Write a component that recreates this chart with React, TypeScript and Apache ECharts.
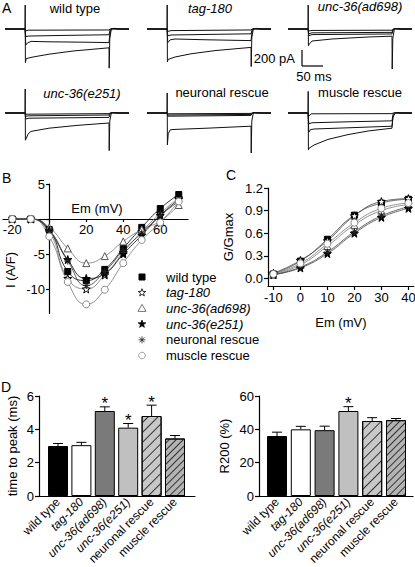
import React, { useEffect, useRef } from 'react';
import * as echarts from 'echarts';

const FONT = "'Liberation Sans', Arial, Helvetica, sans-serif";

// ---------- Panel A: current traces, [time (ms), current (pA)] ----------
const wtTraces = [
  [[-50, 0], [0, 0], [1, -25], [8, -15], [210, -12], [213, 0], [260, 0]],
  [[-50, 0], [0, 0], [2, -95], [10, -88], [100, -80], [210, -72], [213, -5], [218, 5], [230, 0], [260, 0]],
  [[-50, 0], [0, 0], [2, -200], [6, -175], [15, -155], [60, -160], [150, -165], [210, -170], [213, -20], [220, 5], [235, 0], [260, 0]],
  [[-50, 0], [0, 0], [0.5, 300], [1, -420], [3, -370], [20, -350], [60, -315], [120, -275], [210, -235], [210.5, -490], [212, -120], [216, 5], [225, 8], [240, 0], [260, 0]],
];
const tagTraces = [
  [[-50, 0], [0, 0], [2, -30], [10, -20], [210, -12], [213, 0], [260, 0]],
  [[-50, 0], [0, 0], [2, -85], [10, -75], [100, -68], [210, -60], [213, -5], [218, 5], [230, 0], [260, 0]],
  [[-50, 0], [0, 0], [2, -170], [8, -135], [20, -125], [100, -135], [210, -145], [213, -20], [220, 5], [235, 0], [260, 0]],
  [[-50, 0], [0, 0], [0.5, 300], [1, -410], [3, -380], [20, -350], [60, -310], [120, -270], [210, -230], [210.5, -470], [212, -110], [216, 5], [225, 8], [240, 0], [260, 0]],
];
const ad698Traces = [
  [[-50, 0], [0, 0], [2, -25], [10, -18], [210, -15], [213, 0], [260, 0]],
  [[-50, 0], [0, 0], [2, -60], [10, -48], [210, -42], [213, -5], [218, 5], [230, 0], [260, 0]],
  [[-50, 0], [0, 0], [2, -85], [10, -70], [210, -62], [213, -8], [218, 5], [230, 0], [260, 0]],
  [[-50, 0], [0, 0], [0.5, 300], [1, -210], [3, -190], [10, -150], [60, -125], [150, -100], [210, -90], [210.5, -500], [212, -120], [216, 5], [225, 5], [240, 0], [260, 0]],
];
const e251Traces = [
  [[-50, 0], [0, 0], [2, -15], [210, -8], [213, 0], [260, 0]],
  [[-50, 0], [0, 0], [2, -40], [10, -35], [210, -25], [213, -3], [218, 4], [230, 0], [260, 0]],
  [[-50, 0], [0, 0], [2, -75], [10, -65], [210, -55], [213, -6], [218, 5], [230, 0], [260, 0]],
  [[-50, 0], [0, 0], [0.5, 300], [1, -340], [3, -320], [8, -260], [15, -230], [60, -190], [130, -155], [210, -125], [210.5, -470], [212, -100], [216, 5], [225, 5], [240, 0], [260, 0]],
];
const neuronalTraces = [
  [[-50, 0], [0, 0], [2, -10], [210, -5], [213, 0], [260, 0]],
  [[-50, 0], [0, 0], [2, -25], [210, -18], [213, -2], [218, 4], [230, 0], [260, 0]],
  [[-50, 0], [0, 0], [2, -40], [210, -30], [213, -4], [218, 5], [230, 0], [260, 0]],
  [[-50, 0], [0, 0], [0.5, 250], [1, -400], [3, -260], [8, -210], [20, -205], [100, -190], [210, -165], [210.5, -500], [212, -100], [216, 5], [225, 5], [240, 0], [260, 0]],
];
const muscleTraces = [
  [[-50, 0], [0, 0], [2, -40], [8, -10], [210, -8], [213, 0], [260, 0]],
  [[-50, 0], [0, 0], [2, -135], [10, -122], [100, -110], [210, -98], [213, -10], [218, 5], [230, 0], [260, 0]],
  [[-50, 0], [0, 0], [2, -240], [6, -208], [15, -200], [100, -185], [210, -165], [213, -30], [220, 5], [235, 0], [260, 0]],
  [[-50, 0], [0, 0], [0.5, 270], [1, -460], [3, -440], [15, -400], [50, -330], [100, -270], [150, -225], [210, -190], [212, -60], [218, 5], [230, 0], [260, 0]],
];
const panelATraces = [wtTraces, tagTraces, ad698Traces, e251Traces, neuronalTraces, muscleTraces];

// ---------- Genotype names ----------
const genotypes = ['wild type', 'tag-180', 'unc-36(ad698)', 'unc-36(e251)', 'neuronal rescue', 'muscle rescue'];
const italicNames = ['tag-180', 'unc-36(ad698)', 'unc-36(e251)'];

// ---------- Panel B: I-V ----------
const ivVoltages = [-20, -10, 0, 10, 20, 30, 40, 50, 60, 70];
const ivWildType = [0, 0, -1.5, -7.5, -8.8, -7.2, -4.2, -1.2, 1.5, 3.5];
const ivTag180 = [0, 0, -1.8, -8.5, -10, -8, -4.8, -1.8, 0.8, 3.0];
const ivAd698 = [0, 0, -1.2, -4.2, -6.3, -5.3, -3.2, -1.5, -0.3, 2.0];
const ivE251 = [0, 0, -1.6, -5.8, -8.5, -7.8, -5.0, -2.3, 0.5, 2.8];
const ivNeuronal = [0, 0, -1.8, -6.0, -9.5, -7.5, -4.5, -2.0, 0.5, 2.5];
const ivMuscle = [0, 0, -2.5, -9.0, -12.2, -10.1, -6.3, -3.0, -0.5, 2.5];
const ivSeries = [ivWildType, ivTag180, ivAd698, ivE251, ivNeuronal, ivMuscle];

// ---------- Panel C: G-V ----------
const gvVoltages = [-10, 0, 10, 20, 30, 40];
const gvWildType = [0.06, 0.23, 0.52, 0.84, 1.0, 1.05];
const gvTag180 = [0.07, 0.24, 0.5, 0.83, 1.02, 1.06];
const gvAd698 = [0.05, 0.18, 0.43, 0.71, 0.9, 0.98];
const gvE251 = [0.05, 0.14, 0.33, 0.6, 0.81, 0.93];
const gvNeuronal = [0.05, 0.15, 0.35, 0.62, 0.83, 0.95];
const gvMuscle = [0.06, 0.2, 0.46, 0.74, 0.93, 1.0];
const gvSeries = [gvWildType, gvTag180, gvAd698, gvE251, gvNeuronal, gvMuscle];

// ---------- Panel D ----------
const timeToPeak = [3.0, 3.05, 5.1, 4.1, 4.8, 3.45];
const timeToPeakErr = [0.15, 0.17, 0.25, 0.25, 0.65, 0.18];
const timeToPeakSig = [0, 0, 1, 1, 1, 0];
const r200 = [36, 40, 39.5, 51, 45, 45.5];
const r200Err = [2.3, 1.8, 2.4, 2.6, 2.0, 1.0];
const r200Sig = [0, 0, 0, 1, 0, 0];

// ---------- Styles ----------
const STAR = 'path://M10,0L12.35,6.76L19.51,6.91L13.8,11.24L15.88,18.09L10,14L4.12,18.09L6.2,11.24L0.49,6.91L7.65,6.76Z';
const ASTER = 'path://M5,0L5,10M0,5L10,5M1.5,1.5L8.5,8.5M8.5,1.5L1.5,8.5';
const markerStyles = [
  { kind: 'rect', symbol: 'rect', size: 6, color: '#000', border: '#000' },
  { kind: 'star', symbol: STAR, size: 8, color: '#fff', border: '#000' },
  { kind: 'triangle', symbol: 'triangle', size: 7, color: '#fff', border: '#555' },
  { kind: 'star', symbol: STAR, size: 8, color: '#000', border: '#000' },
  { kind: 'aster', symbol: ASTER, size: 7, color: '#222', border: '#222' },
  { kind: 'circle', symbol: 'circle', size: 7, color: '#fff', border: '#888' },
];
const fitColors = ['#000', '#777', '#777', '#000', '#333', '#777'];
const gvLineColors = ['#444', '#444', '#777', '#444', '#444', '#777'];
const barFills = ['#000000', '#ffffff', '#7a7a7a', '#c0c0c0', '#c8c8c8', '#b4b4b4'];
const barHatch = [0, 0, 0, 0, 6, 4];

const isItalic = (n: string) => italicNames.indexOf(n) >= 0;

const axisLineStyle = { color: '#000', width: 1.2 };
const labelBase = { color: '#000', fontSize: 13, fontFamily: FONT };

function errRenderItem(params: any, api: any) {
  const i = api.value(0);
  const v = api.value(1);
  const e = api.value(2);
  const sig = api.value(3);
  const base = api.coord([i, v]);
  const top = api.coord([i, v + e]);
  const children: any[] = [
    { type: 'line', shape: { x1: base[0], y1: base[1], x2: top[0], y2: top[1] }, style: { stroke: '#000', lineWidth: 1 } },
    { type: 'line', shape: { x1: top[0] - 5, y1: top[1], x2: top[0] + 5, y2: top[1] }, style: { stroke: '#000', lineWidth: 1 } },
  ];
  if (sig) {
    children.push({
      type: 'text', x: top[0], y: top[1] - 3,
      style: { text: '*', fontSize: 17, fontFamily: FONT, fill: '#000', align: 'center', verticalAlign: 'middle' },
    });
  }
  return { type: 'group', children };
}

function starPoints(cx: number, cy: number, r: number) {
  const pts: number[][] = [];
  for (let k = 0; k < 10; k++) {
    const a = -Math.PI / 2 + (k * Math.PI) / 5;
    const rr = k % 2 === 0 ? r : r * 0.4;
    pts.push([cx + rr * Math.cos(a), cy + rr * Math.sin(a)]);
  }
  return pts;
}

function legendMarker(kind: string, fill: string, stroke: string, cx: number, cy: number): any {
  if (kind === 'rect') return { type: 'rect', shape: { x: cx - 3, y: cy - 3, width: 6, height: 6 }, style: { fill, stroke, lineWidth: 1 } };
  if (kind === 'star') return { type: 'polygon', shape: { points: starPoints(cx, cy, 4) }, style: { fill, stroke, lineWidth: 0.8 } };
  if (kind === 'triangle') return { type: 'polygon', shape: { points: [[cx, cy - 4], [cx + 4, cy + 3], [cx - 4, cy + 3]] }, style: { fill, stroke, lineWidth: 0.8 } };
  if (kind === 'circle') return { type: 'circle', shape: { cx, cy, r: 3.3 }, style: { fill, stroke, lineWidth: 0.8 } };
  const s = 3.5;
  const d = 2.5;
  return {
    type: 'group',
    children: [
      { type: 'line', shape: { x1: cx - s, y1: cy, x2: cx + s, y2: cy }, style: { stroke, lineWidth: 0.8 } },
      { type: 'line', shape: { x1: cx, y1: cy - s, x2: cx, y2: cy + s }, style: { stroke, lineWidth: 0.8 } },
      { type: 'line', shape: { x1: cx - d, y1: cy - d, x2: cx + d, y2: cy + d }, style: { stroke, lineWidth: 0.8 } },
      { type: 'line', shape: { x1: cx - d, y1: cy + d, x2: cx + d, y2: cy - d }, style: { stroke, lineWidth: 0.8 } },
    ],
  };
}

export default function App() {
  const ref = useRef<HTMLDivElement>(null);

  useEffect(() => {
    if (!ref.current) return;
    const chart = echarts.init(ref.current, undefined, { renderer: 'svg' });

    const grids: any[] = [];
    const xAxes: any[] = [];
    const yAxes: any[] = [];
    const series: any[] = [];
    const mkGrid = (left: number, top: number, width: number, height: number) => ({
      left, top, width, height, containLabel: false, outerBoundsMode: 'none',
    });

    // ---- Panel A ----
    const aLefts = [5, 147, 288];
    const aTops = [5, 89];
    panelATraces.forEach((traces, p) => {
      const g = grids.length;
      grids.push(mkGrid(aLefts[p % 3], aTops[Math.floor(p / 3)], 124, 64));
      xAxes.push({ type: 'value', gridIndex: g, min: -50, max: 260, show: false });
      yAxes.push({ type: 'value', gridIndex: g, min: -500, max: 300, show: false });
      traces.forEach((tr) => {
        series.push({
          type: 'line', xAxisIndex: g, yAxisIndex: g, data: tr, symbol: 'none', showSymbol: false,
          lineStyle: { color: '#111', width: 1 }, silent: true,
        });
      });
    });

    // ---- Panel B ----
    const gB = grids.length;
    grids.push(mkGrid(3, 184, 185, 129.5));
    xAxes.push({
      type: 'value', gridIndex: gB, min: -25, max: 75, position: 'bottom', offset: -94.5,
      axisLine: { onZero: false, lineStyle: axisLineStyle },
      axisTick: { customValues: [-20, 0, 20, 40, 60], length: 3, lineStyle: axisLineStyle },
      axisLabel: { ...labelBase, customValues: [-20, 20, 40, 60], margin: 4 },
      splitLine: { show: false },
    });
    yAxes.push({
      type: 'value', gridIndex: gB, min: -13.5, max: 5, position: 'left', offset: -46,
      axisLine: { show: true, onZero: false, lineStyle: axisLineStyle },
      axisTick: { show: true, customValues: [-10, -5, 0, 5], length: 3, lineStyle: axisLineStyle },
      axisLabel: { ...labelBase, customValues: [-10, -5, 5], margin: 4 },
      splitLine: { show: false },
    });
    ivSeries.forEach((vals, k) => {
      series.push({
        type: 'line', name: 'fitB' + k, xAxisIndex: gB, yAxisIndex: gB, smooth: 0.5, symbol: 'none',
        data: ivVoltages.map((v, i) => [v, vals[i]]),
        lineStyle: { color: fitColors[k], width: 0.8 }, z: 2, silent: true,
      });
    });
    ivSeries.forEach((vals, k) => {
      const m = markerStyles[k];
      series.push({
        type: 'scatter', name: genotypes[k], xAxisIndex: gB, yAxisIndex: gB,
        data: ivVoltages.map((v, i) => [v, vals[i]]),
        symbol: m.symbol, symbolSize: m.size,
        itemStyle: { color: m.color, borderColor: m.border, borderWidth: 1, opacity: 1 }, z: 3,
      });
    });

    // ---- Panel C ----
    const gC = grids.length;
    grids.push(mkGrid(268, 188, 145.8, 98));
    xAxes.push({
      type: 'value', gridIndex: gC, min: -12, max: 42,
      name: 'Em (mV)', nameLocation: 'middle', nameGap: 30,
      nameTextStyle: { ...labelBase },
      axisLine: { onZero: false, lineStyle: axisLineStyle },
      axisTick: { customValues: [-10, 0, 10, 20, 30, 40], length: 4, lineStyle: axisLineStyle },
      axisLabel: { ...labelBase, customValues: [-10, 0, 10, 20, 30, 40], margin: 5 },
      splitLine: { show: false },
    });
    yAxes.push({
      type: 'value', gridIndex: gC, min: -0.1, max: 1.2,
      name: 'G/Gmax', nameLocation: 'middle', nameGap: 33,
      nameTextStyle: { ...labelBase },
      axisLine: { show: true, onZero: false, lineStyle: axisLineStyle },
      axisTick: { show: true, customValues: [0, 0.3, 0.6, 0.9, 1.2], length: 4, lineStyle: axisLineStyle },
      axisLabel: { ...labelBase, customValues: [0, 0.3, 0.6, 0.9, 1.2], margin: 5, formatter: (v: number) => v.toFixed(1) },
      splitLine: { show: false },
    });
    gvSeries.forEach((vals, k) => {
      series.push({
        type: 'line', name: 'fitC' + k, xAxisIndex: gC, yAxisIndex: gC, smooth: 0.5, symbol: 'none',
        data: gvVoltages.map((v, i) => [v, vals[i]]),
        lineStyle: { color: gvLineColors[k], width: 0.8 }, z: 2, silent: true,
      });
    });
    gvSeries.forEach((vals, k) => {
      const m = markerStyles[k];
      series.push({
        type: 'scatter', name: genotypes[k], xAxisIndex: gC, yAxisIndex: gC,
        data: gvVoltages.map((v, i) => [v, vals[i]]),
        symbol: m.symbol, symbolSize: m.size,
        itemStyle: { color: m.color, borderColor: m.border, borderWidth: 1, opacity: 1 }, z: 3,
      });
    });

    // ---- Panel D ----
    const addBarPanel = (axisLeft: number, axisWidth: number, barLeft: number, barWidth: number,
      max: number, interval: number, yName: string, nameGap: number,
      vals: number[], errs: number[], sig: number[]) => {
      const gA = grids.length;
      grids.push(mkGrid(axisLeft, 396, axisWidth, 100));
      xAxes.push({
        type: 'value', gridIndex: gA, min: 0, max: 1,
        axisLine: { show: true, onZero: false, lineStyle: axisLineStyle },
        axisTick: { show: false }, axisLabel: { show: false }, splitLine: { show: false },
      });
      yAxes.push({
        type: 'value', gridIndex: gA, min: 0, max, interval,
        name: yName, nameLocation: 'middle', nameGap, nameTextStyle: { ...labelBase },
        axisLine: { show: true, onZero: false, lineStyle: axisLineStyle },
        axisTick: { show: true, length: 4, lineStyle: axisLineStyle },
        axisLabel: { ...labelBase, margin: 5 },
        splitLine: { show: false },
      });
      const gBars = grids.length;
      grids.push(mkGrid(barLeft, 396, barWidth, 100));
      xAxes.push({
        type: 'category', gridIndex: gBars, data: genotypes,
        axisLine: { show: false }, axisTick: { show: false },
        axisLabel: {
          interval: 0, rotate: 45, margin: 4, color: '#000', fontSize: 12, fontFamily: FONT,
          hideOverlap: false, overflow: 'none', width: 200,
          formatter: (n: string) => (isItalic(n) ? `{i|${n}}` : n),
          rich: {
            i: { fontStyle: 'italic', fontSize: 12, fontFamily: FONT, color: '#000' },
          },
        },
      });
      yAxes.push({ type: 'value', gridIndex: gBars, min: 0, max, show: false });
      series.push({
        type: 'bar', xAxisIndex: gBars, yAxisIndex: gBars, barWidth: 20,
        data: vals.map((v, i) => ({
          value: v,
          itemStyle: {
            color: barFills[i], borderColor: '#000', borderWidth: 1,
            decal: barHatch[i]
              ? { symbol: 'rect', symbolSize: 1, dashArrayX: [1, 0], dashArrayY: [1, barHatch[i]], rotation: -Math.PI / 4, color: '#333' }
              : undefined,
          },
        })),
        z: 2,
      });
      series.push({
        type: 'custom', xAxisIndex: gBars, yAxisIndex: gBars,
        data: vals.map((v, i) => [i, v, errs[i], sig[i]]),
        renderItem: errRenderItem, z: 3, silent: true,
      });
    };
    addBarPanel(39, 156, 46.3, 140.4, 6, 2, 'time to peak (ms)', 20, timeToPeak, timeToPeakErr, timeToPeakSig);
    addBarPanel(259, 154, 265.1, 142.8, 60, 20, 'R200 (%)', 28, r200, r200Err, r200Sig);

    // ---- Graphic texts ----
    const txt = (text: string, x: number, y: number, opts: any = {}) => ({
      type: 'text', x, y, rotation: opts.rotation || 0,
      style: {
        text, fontSize: opts.fontSize || 13, fontFamily: FONT, fill: '#000',
        fontStyle: opts.italic ? 'italic' : 'normal',
        align: opts.align || 'center', verticalAlign: 'middle',
      },
    });
    const titleX = [75, 210, 360, 82, 222, 360];
    const titleY = [8, 8, 6, 93, 92, 92];
    const graphics: any[] = genotypes.map((n, i) => txt(n, titleX[i], titleY[i], { italic: isItalic(n) }));
    graphics.push(txt('A', 2, 8, { fontSize: 14, align: 'left' }));
    graphics.push(txt('B', 2, 178, { fontSize: 14, align: 'left' }));
    graphics.push(txt('C', 226, 175, { fontSize: 14, align: 'left' }));
    graphics.push(txt('D', 1, 387, { fontSize: 14, align: 'left' }));
    graphics.push(txt('200 pA', 295, 58, { align: 'right' }));
    graphics.push(txt('50 ms', 314, 76));
    graphics.push({ type: 'line', shape: { x1: 302, y1: 50, x2: 302, y2: 66 }, style: { stroke: '#000', lineWidth: 1.2 } });
    graphics.push({ type: 'line', shape: { x1: 302, y1: 66, x2: 323, y2: 66 }, style: { stroke: '#000', lineWidth: 1.2 } });
    graphics.push(txt('Em (mV)', 97, 208));
    graphics.push(txt('I (A/F)', 10, 270, { rotation: Math.PI / 2 }));

    // legend for panel B
    genotypes.forEach((n, i) => {
      const y = 277 + i * 15.7;
      const m = markerStyles[i];
      graphics.push(legendMarker(m.kind, m.color, m.border, 142, y));
      graphics.push(txt(n, 166, y, { align: 'left', italic: isItalic(n) }));
    });

    chart.setOption({
      animation: false,
      backgroundColor: '#fff',
      grid: grids,
      xAxis: xAxes,
      yAxis: yAxes,
      series,
      graphic: graphics,
    });

    return () => chart.dispose();
  }, []);

  return <div ref={ref} style={{ position: 'fixed', left: 0, top: 0, width: 415, height: 567, background: '#fff' }} />;
}
